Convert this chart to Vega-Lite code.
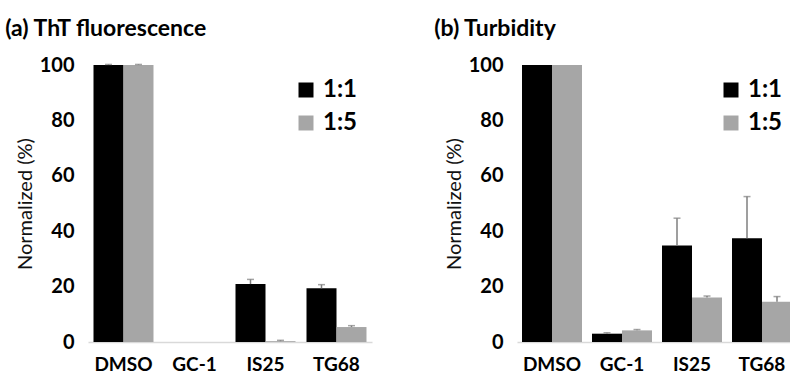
{
  "$schema": "https://vega.github.io/schema/vega-lite/v6.json",
  "background": "white",
  "padding": {"left": 5, "top": 18, "right": 0, "bottom": 5},
  "spacing": 62,
  "resolve": {"scale": {"color": "independent"}, "legend": {"color": "independent"}},
  "config": {
    "font": "Lato",
    "view": {"stroke": null},
    "axisY": {"labelFontSize": 20, "labelFontWeight": "bold", "labelColor": "#000000", "domain": false, "ticks": false, "grid": false, "labelPadding": 14, "titleFontSize": 20, "titleFontWeight": "normal", "titleColor": "#111111", "titlePadding": 4, "values": [0, 20, 40, 60, 80, 100]},
    "axisX": {"labelFontSize": 19, "labelFontWeight": "bold", "labelColor": "#000000", "labelAngle": 0, "domainColor": "#d9d9d9", "domainWidth": 1.5, "ticks": false, "labelPadding": 13, "title": null, "grid": false},
    "legend": {"orient": "none", "title": null, "symbolType": "square", "symbolSize": 225, "symbolStrokeWidth": 0, "labelFontSize": 24, "labelFontWeight": "bold", "labelColor": "#000000", "rowPadding": 9, "labelOffset": 5},
    "title": {"anchor": "start", "fontSize": 23, "fontWeight": "bold", "color": "#000000", "dx": -10, "offset": 14}
  },
  "datasets": {
    "d": [
      {"panel": "a", "cat": "DMSO", "series": "1:1", "value": 100, "hi": 100.2},
      {"panel": "a", "cat": "DMSO", "series": "1:5", "value": 100, "hi": 100.2},
      {"panel": "a", "cat": "GC-1", "series": "1:1", "value": 0, "hi": null},
      {"panel": "a", "cat": "GC-1", "series": "1:5", "value": 0, "hi": null},
      {"panel": "a", "cat": "IS25", "series": "1:1", "value": 20.9, "hi": 22.6},
      {"panel": "a", "cat": "IS25", "series": "1:5", "value": 0.3, "hi": 0.6},
      {"panel": "a", "cat": "TG68", "series": "1:1", "value": 19.4, "hi": 20.7},
      {"panel": "a", "cat": "TG68", "series": "1:5", "value": 5.4, "hi": 5.9},
      {"panel": "b", "cat": "DMSO", "series": "1:1", "value": 100, "hi": null},
      {"panel": "b", "cat": "DMSO", "series": "1:5", "value": 100, "hi": null},
      {"panel": "b", "cat": "GC-1", "series": "1:1", "value": 3.0, "hi": 3.35},
      {"panel": "b", "cat": "GC-1", "series": "1:5", "value": 4.2, "hi": 4.5},
      {"panel": "b", "cat": "IS25", "series": "1:1", "value": 34.8, "hi": 44.7},
      {"panel": "b", "cat": "IS25", "series": "1:5", "value": 16.1, "hi": 16.6},
      {"panel": "b", "cat": "TG68", "series": "1:1", "value": 37.5, "hi": 52.5},
      {"panel": "b", "cat": "TG68", "series": "1:5", "value": 14.5, "hi": 16.4}
    ]
  },
  "hconcat": [
    {
      "width": 284,
      "height": 277,
      "title": {"text": "(a) ThT fluorescence"},
      "data": {"name": "d"},
      "transform": [{"filter": "datum.panel == 'a'"}],
      "encoding": {
        "x": {"field": "cat", "type": "nominal", "sort": ["DMSO", "GC-1", "IS25", "TG68"], "scale": {"paddingInner": 0.155, "paddingOuter": 0.0775}},
        "xOffset": {"field": "series", "type": "nominal", "sort": ["1:1", "1:5"], "scale": {"paddingInner": 0, "paddingOuter": 0}}
      },
      "layer": [
        {
          "mark": {"type": "bar"},
          "encoding": {
            "y": {"field": "value", "type": "quantitative", "scale": {"domain": [0, 100], "nice": false}, "axis": {"title": "Normalized (%)"}},
            "color": {"field": "series", "type": "nominal", "scale": {"domain": ["1:1", "1:5"], "range": ["#000000", "#a6a6a6"]}, "legend": {"legendX": 206, "legendY": 13}}
          }
        },
        {
          "mark": {"type": "rule", "color": "#7f7f7f", "strokeWidth": 1.5},
          "encoding": {"y": {"field": "value", "type": "quantitative"}, "y2": {"field": "hi"}}
        },
        {
          "mark": {"type": "tick", "color": "#7f7f7f", "size": 7, "thickness": 1.5},
          "encoding": {"y": {"field": "hi", "type": "quantitative"}}
        }
      ]
    },
    {
      "width": 280,
      "height": 277,
      "title": {"text": "(b) Turbidity"},
      "data": {"name": "d"},
      "transform": [{"filter": "datum.panel == 'b'"}],
      "encoding": {
        "x": {"field": "cat", "type": "nominal", "sort": ["DMSO", "GC-1", "IS25", "TG68"], "scale": {"paddingInner": 0.143, "paddingOuter": 0.0715}},
        "xOffset": {"field": "series", "type": "nominal", "sort": ["1:1", "1:5"], "scale": {"paddingInner": 0, "paddingOuter": 0}}
      },
      "layer": [
        {
          "mark": {"type": "bar"},
          "encoding": {
            "y": {"field": "value", "type": "quantitative", "scale": {"domain": [0, 100], "nice": false}, "axis": {"title": "Normalized (%)"}},
            "color": {"field": "series", "type": "nominal", "scale": {"domain": ["1:1", "1:5"], "range": ["#000000", "#a6a6a6"]}, "legend": {"legendX": 202, "legendY": 13}}
          }
        },
        {
          "mark": {"type": "rule", "color": "#7f7f7f", "strokeWidth": 1.5},
          "encoding": {"y": {"field": "value", "type": "quantitative"}, "y2": {"field": "hi"}}
        },
        {
          "mark": {"type": "tick", "color": "#7f7f7f", "size": 7, "thickness": 1.5},
          "encoding": {"y": {"field": "hi", "type": "quantitative"}}
        }
      ]
    }
  ]
}
